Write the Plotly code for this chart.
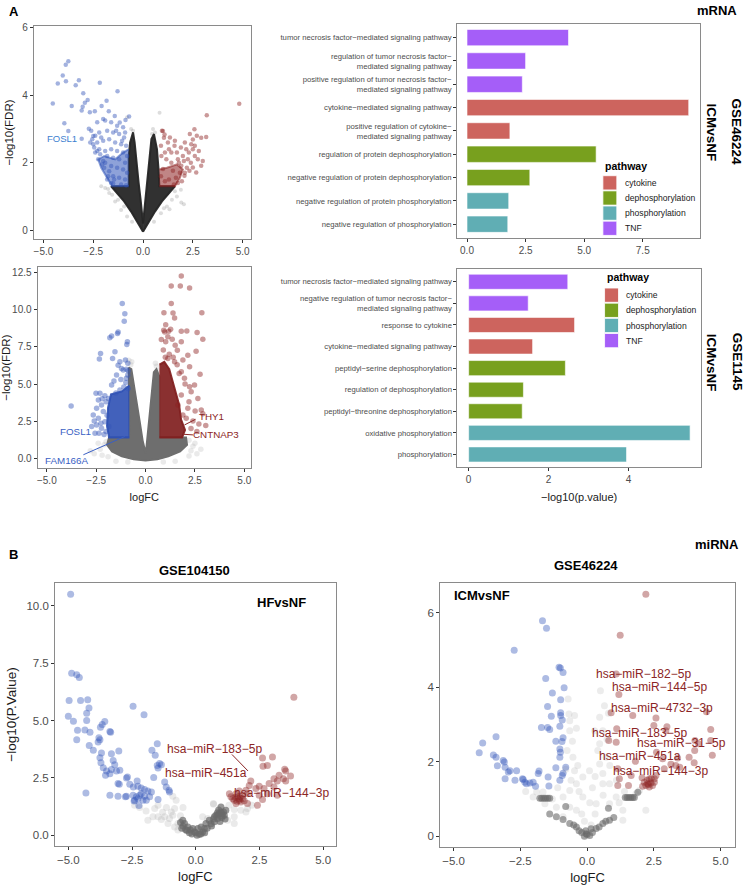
import plotly.graph_objects as go

FONT = "Liberation Sans, Arial, Helvetica, sans-serif"
M = "\u2212"

# ---------------- Panel A bar data ----------------
a1_terms = ["tumor necrosis factor" + M + "mediated signaling pathway",
            "regulation of tumor necrosis factor" + M + "<br>mediated signaling pathway",
            "positive regulation of tumor necrosis factor" + M + "<br>mediated signaling pathway",
            "cytokine" + M + "mediated signaling pathway",
            "positive regulation of cytokine" + M + "<br>mediated signaling pathway",
            "regulation of protein dephosphorylation",
            "negative regulation of protein dephosphorylation",
            "negative regulation of protein phosphorylation",
            "negative regulation of phosphorylation"]
a1_vals = [4.33, 2.50, 2.36, 9.46, 1.83, 5.51, 2.68, 1.78, 1.74]
a1_path = ["TNF", "TNF", "TNF", "cytokine", "cytokine", "dephosphorylation",
           "dephosphorylation", "phosphorylation", "phosphorylation"]

a2_terms = ["tumor necrosis factor" + M + "mediated signaling pathway",
            "negative regulation of tumor necrosis factor" + M + "<br>mediated signaling pathway",
            "response to cytokine",
            "cytokine" + M + "mediated signaling pathway",
            "peptidyl" + M + "serine dephosphorylation",
            "regulation of dephosphorylation",
            "peptidyl" + M + "threonine dephosphorylation",
            "oxidative phosphorylation",
            "phosphorylation"]
a2_vals = [2.48, 1.49, 2.65, 1.60, 2.42, 1.37, 1.34, 5.54, 3.95]
a2_path = ["TNF", "TNF", "cytokine", "cytokine", "dephosphorylation", "dephosphorylation",
           "dephosphorylation", "phosphorylation", "phosphorylation"]

pathways = ["cytokine", "dephosphorylation", "phosphorylation", "TNF"]
path_colors = {"cytokine": "#CD645E", "dephosphorylation": "#78A01E",
               "phosphorylation": "#60AEB4", "TNF": "#A55EF8"}

# ---------------- A1 volcano (GSE46224 mRNA) ----------------
a1_down = [(-3.75,5.01),(-3.88,4.91),(-4.03,4.59),(-4.28,4.35),(-3.87,4.42),(-3.38,4.30),(-3.22,4.45),
           (-4.53,3.76),(-3.58,3.68),(-3.0,4.06),(-2.17,4.37),(-1.28,4.12),(-1.83,3.84),(-2.78,3.86),
           (-2.92,3.78),(-3.03,3.66),(-3.08,3.55),(-2.67,3.50),(-2.42,3.53),(-2.08,3.68),(-3.95,3.17),
           (-3.75,2.94),(-3.08,2.71),(-2.72,3.01),(-2.5,2.79),(-1.72,3.53),(-1.42,3.39),(-1.17,3.19),
           (-0.88,3.27),(-0.7,3.37),(-2.3,3.2),(-2.0,3.3),(-1.9,3.25),(-1.6,3.2),(-1.3,3.1),(-1.0,3.05),
           (-0.9,2.9),(-2.6,2.95),(-2.4,2.8),(-2.2,2.9),(-1.8,2.95),(-1.5,2.9),(-1.2,2.85),(-0.95,2.75),
           (-2.65,2.6),(-2.5,2.55),(-2.3,2.6),(-2.0,2.65),(-1.7,2.7),(-1.4,2.6),(-1.1,2.55),(-0.85,2.5),
           (-2.4,2.3),(-2.2,2.4),(-1.9,2.35),(-1.6,2.4),(-1.3,2.35),(-1.0,2.3),(-0.8,2.2),(-2.25,2.1),
           (-2.0,2.05),(-1.8,2.2),(-1.5,2.15),(-1.2,2.1),(-0.9,2.0),(-1.95,1.85),(-1.6,1.9),(-1.3,1.85),
           (-1.0,1.8),(-0.8,1.7),(-1.75,1.6),(-1.5,1.6),(-1.2,1.55),(-0.9,1.5),(-1.6,1.4),(-1.5,1.38),
           (-1.1,1.35),(-0.85,1.33),(-2.55,2.7),(-2.1,2.75),(-1.35,2.95),(-1.05,2.65),(-2.45,2.45),
           (-2.15,2.25),(-1.9,2.0),(-1.7,1.75),(-1.45,1.5),(-2.3,2.35),(-2.05,1.95),(-1.8,1.5)]
a1_up = [(4.83,3.75),(3.2,3.41),(2.58,2.99),(3.17,2.76),(2.92,2.74),(2.5,2.69),(1.0,2.94),(1.08,2.84),
         (1.05,2.74),(2.17,2.40),(2.42,2.55),(2.5,2.40),(2.75,2.10),(2.25,2.10),(2.0,2.2),(1.58,2.50),
         (1.42,2.30),(1.25,2.60),(0.92,2.20),(2.92,1.91),(2.5,1.86),(2.67,1.71),(2.33,1.76),(2.08,1.61),
         (1.75,2.10),(1.92,1.91),(1.42,2.0),(1.17,2.10),(1.0,1.81),(1.5,1.76),(2.3,2.3),(2.6,2.5),
         (1.9,2.45),(1.3,2.4),(1.1,2.3),(0.9,2.5),(1.7,2.3),(2.8,2.35),(2.4,2.0),(2.2,1.85),(1.85,1.7),
         (1.65,1.55),(1.3,1.5),(1.1,1.45),(0.9,1.6),(2.05,2.05),(2.6,2.2),(3.0,2.05),(1.6,2.65),
         (2.1,2.6),(1.35,2.75),(0.95,2.95),(1.8,2.0),(2.7,2.8),(2.35,2.85),(1.95,1.45),(2.1,1.7),
         (1.75,1.4),(1.55,1.35)]
a1_ns = [(-1.7,1.1),(-1.4,0.85),(-1.1,0.6),(-0.8,0.4),(-1.9,1.25),(-2.1,1.3),(-1.75,1.22),(-0.8,3.35),
         (0.83,3.48),(1.92,0.82),(2.05,0.77),(1.33,0.62),(1.7,1.0),(1.9,1.2),(1.2,0.7),(0.9,0.5),
         (-0.6,3.0),(0.5,3.0),(0.6,2.9),(-0.55,0.25),(0.55,0.25),(-1.25,0.9),(1.45,0.9),(-0.5,2.95),
         (0.45,2.85),(-1.55,1.05),(1.6,1.15),(-0.95,0.7),(1.05,0.65)]
a1_core_left = [(0,-0.05),(-0.3,0.25),(-0.6,0.55),(-0.95,0.85),(-1.3,1.1),(-1.6,1.3),(-0.72,1.3),
                (-0.72,2.2),(-0.65,2.6),(-0.5,2.9),(-0.42,2.6),(-0.33,2.0),(-0.22,1.4),(-0.12,0.9),
                (-0.04,0.45),(0,0.2)]
a1_core_right = [(0,0.2),(0.04,0.45),(0.12,0.9),(0.22,1.4),(0.32,2.1),(0.42,2.7),(0.55,2.85),(0.7,2.4),
                 (0.78,1.8),(0.82,1.3),(1.6,1.3),(1.3,1.1),(0.95,0.85),(0.6,0.55),(0.3,0.25),(0,-0.05)]
a1_down_dense = [(-0.72,1.3),(-1.55,1.3),(-1.85,1.6),(-2.1,1.85),(-2.25,2.1),(-1.95,2.2),(-1.4,2.1),
                 (-1.0,2.3),(-0.72,2.4)]
a1_up_dense = [(0.82,1.3),(1.6,1.3),(1.85,1.55),(2.0,1.8),(1.7,1.95),(1.2,1.85),(0.82,1.8)]

# ---------------- A2 volcano (GSE1145 mRNA) ----------------
a2_down = [(-1.18,10.42),(-1.05,9.74),(-1.08,9.23),(-1.39,8.51),(-1.42,8.40),(-1.72,8.24),(-1.81,8.11),
           (-2.28,7.06),(-2.34,6.68),(-1.55,7.17),(-0.92,7.84),(-0.95,7.66),(-1.67,6.72),(-1.30,6.50),
           (-1.02,6.61),(-1.39,6.27),(-1.22,6.05),(-1.13,5.94),(-0.97,6.00),(-1.47,5.60),(-0.97,5.38),
           (-1.72,4.93),(-0.88,4.70),(-2.51,4.37),(-2.31,4.37),(-2.06,4.21),(-1.89,4.03),(-2.39,3.92),
           (-2.23,3.58),(-2.48,3.36),(-2.14,3.14),(-2.65,2.91),(-2.39,2.69),(-2.06,2.46),(-3.77,3.52),
           (-2.56,1.68),(-2.36,1.68),(-2.23,2.02),(-2.73,2.13),(-1.86,2.13),(-2.26,2.35),(-2.48,2.24),
           (-1.0,5.1),(-0.9,5.6),(-1.1,4.8),(-1.3,4.6),(-1.5,4.4),(-2.0,3.8),(-2.2,4.0),(-1.95,2.9),
           (-2.0,1.8),(-2.1,1.6),(-2.6,2.5),(-1.6,5.2),(-1.25,5.3),(-0.88,5.9),(-0.9,6.4)]
a2_up = [(1.81,12.28),(1.30,11.60),(1.76,11.60),(2.23,11.47),(1.30,10.42),(0.93,9.81),(1.39,9.79),
         (2.85,9.81),(1.47,9.45),(1.02,9.0),(1.27,8.69),(0.92,8.62),(0.97,8.51),(1.17,8.56),(1.81,8.56),
         (2.09,8.58),(2.61,8.47),(2.90,8.02),(1.13,8.18),(1.35,8.02),(1.81,7.84),(1.61,7.28),(1.02,7.84),
         (1.50,7.62),(2.14,6.94),(1.89,6.61),(2.56,7.21),(1.47,6.50),(1.13,6.72),(2.23,6.16),(2.76,5.65),
         (1.81,5.82),(1.97,5.38),(2.48,4.93),(2.31,4.48),(2.23,4.82),(2.65,4.03),(1.81,4.26),(2.82,3.25),
         (2.51,3.18),(2.14,3.36),(1.64,3.58),(1.89,2.91),(2.06,2.69),(1.0,6.8),(1.2,7.0),(0.9,7.3),
         (1.4,6.8),(1.6,6.3),(2.0,5.0),(2.2,3.8),(2.4,2.5),(2.7,2.3),(2.9,3.0),(2.3,2.0),(2.6,1.8),
         (3.05,2.2),(1.7,5.7),(0.8,8.0)]
a2_ns = [(-2.3,0.6),(-2.6,0.3),(-2.2,0.2),(-1.9,0.1),(2.3,0.5),(2.6,0.3),(2.2,0.15),(2.5,1.0),(-2.0,1.1),
         (-0.75,6.3),(-0.85,6.6),(0.55,6.2),(0.65,5.9),(-2.8,0.5),(2.8,0.6),(-1.5,-0.2),(1.5,-0.2),
         (0.9,-0.25),(-0.9,-0.25),(-2.1,0.9),(2.2,1.2),(-0.7,6.5),(0.5,6.4),(-2.4,1.0),(2.4,0.8)]
a2_core = [(0,0.35),(-0.15,1.2),(-0.3,2.5),(-0.45,3.8),(-0.6,5.0),(-0.72,6.0),(-0.85,6.1),(-0.85,4.8),
           (-0.82,1.4),(-1.85,1.4),(-1.95,0.9),(-1.7,0.45),(-1.2,0.12),(-0.6,-0.08),(0,-0.15),(0.6,-0.08),
           (1.15,0.12),(1.75,0.45),(2.1,0.9),(2.05,1.4),(0.7,1.4),(0.7,5.5),(0.55,6.0),(0.42,5.8),(0.33,4.5),
           (0.23,3.0),(0.13,1.8),(0.05,0.8),(0,0.35)]
a2_down_dense = [(-0.82,1.4),(-1.85,1.4),(-1.95,2.2),(-1.9,3.4),(-1.75,4.3),(-1.2,4.5),(-0.82,4.9)]
a2_up_dense = [(0.7,1.4),(1.85,1.4),(2.0,1.9),(1.8,2.6),(1.7,3.6),(1.5,4.6),(1.35,5.4),(1.2,6.0),
               (0.95,6.5),(0.7,6.3)]

# ---------------- B1 volcano (GSE104150 miRNA) ----------------
b1_down = [(-4.91,10.51),(-4.87,7.06),(-4.67,7.0),(-4.57,6.88),(-4.97,5.87),(-4.52,5.87),(-4.24,5.90),
           (-4.19,5.55),(-5.0,5.19),(-4.80,4.97),(-4.28,5.32),(-4.28,5.0),(-4.64,4.57),(-4.67,4.16),
           (-4.35,4.59),(-4.15,4.49),(-3.67,4.83),(-3.57,4.96),(-3.74,4.71),(-2.46,5.62),(-2.03,5.25),
           (-3.80,4.25),(-3.83,4.06),(-3.76,4.16),(-4.18,3.91),(-4.02,3.70),(-3.70,3.58),(-3.76,3.38),
           (-3.37,4.52),(-3.34,4.49),(-3.31,3.55),(-3.02,3.67),(-3.72,3.16),(-3.63,2.94),(-3.24,3.26),
           (-3.18,3.07),(-3.31,2.86),(-3.11,2.80),(-3.50,2.80),(-2.98,2.83),(-3.54,2.61),(-3.37,2.68),
           (-3.05,2.25),(-2.68,2.54),(-2.72,2.49),(-3.0,2.22),(-2.30,2.36),(-2.59,2.22),(-2.45,2.10),
           (-2.27,2.13),(-2.14,2.06),(-2.01,1.99),(-1.88,1.93),(-1.74,1.88),(-4.31,1.84),(-3.37,1.74),
           (-3.05,1.70),(-2.72,1.70),(-2.76,1.67),(-2.46,1.74),(-2.33,1.67),(-2.20,1.74),(-2.40,1.52),
           (-2.27,1.59),(-2.07,1.52),(-2.01,1.70),(-2.23,1.29),(-2.42,1.49),(-2.14,1.81),(-1.94,1.52),
           (-1.81,1.67),(-1.48,1.55),(-1.51,3.99),(-1.72,3.70),(-1.59,3.48),(-1.51,3.04),(-1.48,2.93),
           (-1.42,3.12),(-1.35,3.07),(-1.65,2.51),(-1.22,2.32),(-1.16,2.10),(-1.05,1.96),(-1.03,1.88)]
b1_up = [(3.85,6.01),(2.62,3.36),(3.01,3.41),(2.81,3.04),(2.64,3.01),(3.49,2.87),(3.53,2.80),(3.72,2.58),
         (3.27,2.61),(3.44,2.46),(3.07,2.46),(2.88,2.25),(3.20,2.36),(3.53,2.36),(3.07,2.10),(2.68,2.03),
         (2.49,2.13),(2.36,2.03),(2.16,2.36),(2.10,2.17),(2.49,1.74),(2.81,1.81),(3.20,1.74),(2.62,1.55),
         (2.42,1.30),(2.03,1.38),(2.03,1.81),(1.84,1.74),(1.97,1.96),(1.71,1.93),(1.58,1.81),(1.38,1.67),
         (1.32,1.81),(1.51,1.52),(1.71,1.52),(1.77,1.45),(1.58,1.38),(1.45,1.59),(1.64,1.67),(1.84,1.59),
         (1.7,1.6),(1.62,1.48),(1.75,1.7),(1.55,1.65),(1.9,1.5)]
b1_ns_dark = [(-0.05,0.14),(-0.12,0.29),(-0.31,0.36),(-0.44,0.51),(-0.51,0.65),(0.08,0.29),(0.21,0.36),
              (0.40,0.51),(0.53,0.65),(0.73,0.80),(0.86,0.87),(0.92,0.94),(0.99,1.01),(1.09,1.01),
              (0.86,0.72),(0.73,0.58),(1.12,0.87),(1.18,1.09),(0.99,1.23),(0.79,0.87),(1.02,0.77),
              (-0.21,0.22),(0.0,0.10),(0.14,0.04),(0.27,0.14),(0.34,0.29),(-0.6,0.55),(-0.5,0.4),
              (-0.35,0.2),(-0.25,0.1),(-0.15,0.05),(0.05,0.0),(0.2,0.05),(0.35,0.1),(0.45,0.3),(0.6,0.5),
              (0.95,0.6),(1.05,0.85),(0.9,1.1),(1.15,0.7),(0.7,0.7),(-0.4,0.25),(-0.55,0.3),(0.62,0.4),
              (1.0,0.95),(0.85,0.98)]
b1_ns_light = [(-1.88,0.65),(-1.68,0.80),(-1.48,0.80),(-1.35,0.68),(-1.22,0.80),(-1.03,0.72),(-0.90,0.87),
               (-0.83,1.16),(-0.96,1.01),(-0.77,1.52),(-0.90,1.70),(-1.09,0.51),(-0.83,0.36),(-0.70,0.51),
               (-0.70,0.22),(-1.61,1.16),(-1.48,1.30),(0.70,1.35),(1.51,1.12),(1.77,1.09),(2.03,1.16),
               (1.97,1.01),(1.51,0.80),(1.25,0.65),(1.51,0.51),(0.47,0.72),(0.27,0.80),(0.69,1.38),
               (-2.2,1.2),(-1.95,1.05),(-1.3,1.0),(-0.6,0.85),(-1.15,1.2),(1.3,1.3),(2.2,1.3),(-2.4,1.3),
               (-0.5,1.2)]

# ---------------- B2 volcano (GSE46224 miRNA) ----------------
b2_down = [(-1.67,5.78),(-1.52,5.58),(-2.73,4.99),(-1.05,4.53),(-1.0,4.51),(-0.90,4.39),(-1.55,4.23),
           (-0.86,3.98),(-1.30,3.84),(-0.99,3.66),(-1.48,3.48),(-0.99,3.31),(-1.34,3.22),(-0.99,3.24),
           (-0.93,3.12),(-1.71,2.92),(-1.48,2.92),(-1.40,2.86),(-1.02,2.95),(-0.90,2.64),(-1.17,2.55),
           (-0.94,2.54),(-1.02,2.34),(-1.0,2.25),(-1.02,2.12),(-0.80,1.85),(-1.17,1.84),(-0.90,1.69),
           (-0.93,1.63),(-1.02,1.50),(-3.91,2.50),(-3.41,2.67),(-4.04,2.24),(-3.51,2.18),(-3.41,2.12),
           (-3.14,2.03),(-3.10,1.99),(-3.36,1.89),(-3.07,1.85),(-2.89,1.76),(-2.95,1.72),(-2.64,1.76),
           (-3.07,1.54),(-2.70,1.50),(-2.42,1.54),(-2.33,1.45),(-2.39,1.52),(-2.14,1.43),(-2.27,1.41),
           (-2.02,1.45),(-1.93,1.34),(-1.83,1.68),(-1.80,1.75),(-1.46,1.59),(-1.43,1.35)]
b2_up = [(2.20,6.49),(1.24,5.39),(1.09,4.35),(1.19,3.80),(1.71,3.24),(2.58,3.17),(0.90,3.31),(2.50,2.97),
         (2.99,2.94),(2.95,2.83),(1.11,2.88),(4.63,2.86),(4.47,3.34),(0.81,2.57),(1.09,2.52),(4.04,2.57),
         (4.17,2.48),(4.63,2.57),(2.60,2.25),(3.39,2.10),(3.82,2.12),(4.03,2.30),(4.69,2.17),(1.81,2.01),
         (2.83,2.08),(3.14,1.93),(3.32,1.90),(3.47,1.85),(2.89,1.81),(4.01,1.97),(1.15,1.81),(1.21,1.54),
         (1.65,1.63),(2.06,1.57),(2.33,1.54),(2.52,1.54),(2.58,1.63),(1.15,1.36),(1.55,1.36),(2.14,1.45),
         (2.27,1.41),(2.39,1.43),(2.45,1.36),(2.20,1.36),(2.33,1.32),(2.08,1.34),(2.52,1.45),(2.25,1.5),
         (2.4,1.55),(2.3,1.38)]
b2_ns_dark = [(-1.15,0.52),(-0.65,0.34),(-0.40,0.25),(-0.03,0.07),(0.34,0.21),(0.59,0.34),(0.84,0.43),
              (-0.9,0.45),(-0.2,0.1),(0.1,0.02),(0.2,0.1),(-0.1,0.0),(0.0,0.05),(-0.5,0.3),(0.45,0.25),
              (-0.3,0.15),(0.7,0.4),(1.0,0.5),(-1.4,0.6),(-1.77,1.02),(-1.7,1.02),(-1.62,1.02),
              (-1.55,1.02),(-1.47,1.02),(-1.40,1.02),(1.43,1.04),(1.5,1.04),(1.57,1.04),(1.64,1.04),
              (1.71,1.04),(1.77,1.04),(1.9,1.18),(-0.8,0.8),(0.8,0.75),(-0.05,0.15),(0.15,0.2)]
b2_ns_light = [(-0.71,3.68),(-0.68,3.28),(-0.47,3.24),(-0.65,3.1),(-0.55,2.55),(-0.65,2.83),(0.65,3.50),
               (0.47,3.19),(0.59,2.83),(0.47,2.48),(0.71,2.12),(0.47,1.94),(0.09,1.76),(-0.16,1.59),
               (-0.40,1.41),(-0.65,1.23),(-0.90,1.05),(-1.65,1.19),(-1.89,1.19),(-2.02,1.05),(-1.58,0.87),
               (-1.15,0.78),(-0.65,0.78),(0.59,1.41),(0.84,1.41),(1.09,1.05),(0.84,0.87),(1.34,0.70),
               (1.83,1.14),(1.96,1.23),(2.20,0.70),(1.34,0.43),(-0.16,1.05),(0.34,0.87),(-0.40,0.70),
               (-0.90,0.52),(0.59,1.68),(0.40,2.30),(0.28,2.83),(-0.53,2.12),(-0.47,1.76),(-0.3,1.2),
               (0.2,1.3),(-0.2,0.6),(0.3,0.6),(-0.6,1.5),(0.6,1.1),(-0.8,1.8),(0.85,1.9),(1.1,1.5),
               (-1.3,1.0),(0.75,2.6),(-0.75,2.3),(-0.35,1.9),(0.3,1.6),(0.5,3.9),(0.8,3.3),(-0.4,2.9),
               (-2.3,1.2),(1.4,1.2),(1.2,0.9),(-1.1,1.3),(0.1,0.9),(-0.1,0.4),(0.15,0.3)]

# ---------------- labels ----------------
a1_labels = [("FOSL1", -4.09, 2.72, "down")]
a2_labels = [("FOSL1", -3.54, 1.79, "down"), ("FAM166A", -3.99, -0.17, "down"),
             ("THY1", 3.32, 2.80, "up"), ("CNTNAP3", 3.57, 1.57, "up")]
a2_segments = [(-3.15, 0.23, -1.05, 1.46, "down"), (1.97, 2.24, 2.53, 2.62, "up"),
               (1.94, 1.61, 2.40, 1.57, "up")]
b1_labels = [("hsa" + M + "miR" + M + "183" + M + "5p", 0.73, 3.77),
             ("hsa" + M + "miR" + M + "451a", 0.40, 2.71),
             ("hsa" + M + "miR" + M + "144" + M + "3p", 3.37, 1.84)]
b1_segments = [(1.42, 3.52, 2.05, 2.80)]
b2_labels = [("hsa" + M + "miR" + M + "182" + M + "5p", 2.13, 4.35),
             ("hsa" + M + "miR" + M + "144" + M + "5p", 2.71, 3.99),
             ("hsa" + M + "miR" + M + "4732" + M + "3p", 2.81, 3.43),
             ("hsa" + M + "miR" + M + "183" + M + "5p", 1.97, 2.77),
             ("hsa" + M + "miR" + M + "31" + M + "5p", 3.54, 2.49),
             ("hsa" + M + "miR" + M + "451a", 1.99, 2.15),
             ("hsa" + M + "miR" + M + "144" + M + "3p", 2.75, 1.76)]

W, H = 747, 885
BLUE = "50,85,185"
RED = "140,32,32"
LBL_BLUE = {"a1": "#3D7FD0", "a2": "#3A5FC4"}
LBL_RED = "#8B2525"

fig = go.Figure()


def pts(pairs, ax, color, size, name):
    xs = [p[0] for p in pairs]
    ys = [p[1] for p in pairs]
    fig.add_trace(go.Scatter(x=xs, y=ys, mode="markers", name=name, showlegend=False,
                             hoverinfo="skip", xaxis="x" + ax, yaxis="y" + ax,
                             marker=dict(color=color, size=size, line=dict(width=0))))


def poly(pairs, ax, color, name):
    xs = [p[0] for p in pairs]
    ys = [p[1] for p in pairs]
    fig.add_trace(go.Scatter(x=xs, y=ys, mode="lines", fill="toself", fillcolor=color,
                             line=dict(color=color, width=2), name=name, showlegend=False,
                             hoverinfo="skip", xaxis="x" + ax, yaxis="y" + ax))


# A1 volcano
pts(a1_ns, "", "rgba(120,120,120,0.25)", 4, "ns")
poly(a1_core_left, "", "rgba(38,38,38,0.95)", "core")
poly(a1_core_right, "", "rgba(38,38,38,0.95)", "core")
poly(a1_down_dense, "", "rgba(" + BLUE + ",0.55)", "down")
poly(a1_up_dense, "", "rgba(" + RED + ",0.55)", "up")
pts(a1_down, "", "rgba(" + BLUE + ",0.45)", 4.5, "down")
pts(a1_up, "", "rgba(" + RED + ",0.45)", 4.5, "up")

# A2 volcano
pts(a2_ns, "3", "rgba(150,150,150,0.2)", 5.5, "ns")
poly(a2_core, "3", "rgba(110,110,110,1)", "core")
poly(a2_down_dense, "3", "rgba(45,80,180,0.9)", "down")
poly(a2_up_dense, "3", "rgba(128,30,30,0.92)", "up")
pts(a2_down, "3", "rgba(" + BLUE + ",0.45)", 5.5, "down")
pts(a2_up, "3", "rgba(" + RED + ",0.45)", 5.5, "up")

# B1 volcano
pts(b1_ns_light, "5", "rgba(150,150,150,0.2)", 7, "ns")
pts(b1_ns_dark, "5", "rgba(105,105,105,0.7)", 7, "ns")
pts(b1_down, "5", "rgba(" + BLUE + ",0.4)", 7, "down")
pts(b1_up, "5", "rgba(" + RED + ",0.4)", 7, "up")

# B2 volcano
pts(b2_ns_light, "6", "rgba(150,150,150,0.18)", 7, "ns")
pts(b2_ns_dark, "6", "rgba(105,105,105,0.6)", 7, "ns")
pts(b2_down, "6", "rgba(" + BLUE + ",0.4)", 7, "down")
pts(b2_up, "6", "rgba(" + RED + ",0.4)", 7, "up")

# Bars
for terms, vals, paths, ax in [(a1_terms, a1_vals, a1_path, "2"), (a2_terms, a2_vals, a2_path, "4")]:
    for p in pathways:
        ys = [t for t, q in zip(terms, paths) if q == p]
        xs = [v for v, q in zip(vals, paths) if q == p]
        fig.add_trace(go.Bar(x=xs, y=ys, orientation="h", name=p, showlegend=False,
                             marker=dict(color=path_colors[p], line=dict(color="white", width=0.6)),
                             width=0.7, xaxis="x" + ax, yaxis="y" + ax, hoverinfo="skip"))


def dom_x(a, b):
    return [a / W, b / W]


def dom_y(top, bottom):
    return [1 - bottom / H, 1 - top / H]


frame = dict(showline=True, mirror=True, linecolor="#8a8a8a", linewidth=1, showgrid=False,
             zeroline=False, ticks="outside", ticklen=3, tickcolor="#333333",
             tickfont=dict(family=FONT, size=10, color="#4D4D4D"))

vx = dict(tickvals=[-5, -2.5, 0, 2.5, 5], tickformat=".1f")

layout = dict(
    width=W, height=H, margin=dict(l=0, r=0, t=0, b=0),
    paper_bgcolor="white", plot_bgcolor="white", barmode="overlay",
    font=dict(family=FONT, color="#1a1a1a"),
    xaxis=dict(frame, **vx, domain=dom_x(32, 250), range=[-5.48, 5.42], anchor="y"),
    yaxis=dict(frame, domain=dom_y(23, 237), range=[-0.27, 6.06], dtick=2, anchor="x",
               title=dict(text=M + "log10(FDR)", font=dict(size=11.5, color="#1a1a1a"), standoff=6)),
    xaxis2=dict(frame, domain=dom_x(457, 701), range=[-0.42, 9.95], anchor="y2",
                tickvals=[0, 2.5, 5, 7.5], tickformat=".1f"),
    yaxis2=dict(frame, domain=dom_y(20.7, 236), anchor="x2", type="category",
                categoryorder="array", categoryarray=a1_terms, range=[8.6, -0.6],
                tickfont=dict(family=FONT, size=7.7, color="#4D4D4D")),
    xaxis3=dict(frame, **vx, domain=dom_x(35.7, 250), range=[-5.47, 5.34], anchor="y3",
                title=dict(text="logFC", font=dict(size=11, color="#1a1a1a"), standoff=8)),
    yaxis3=dict(frame, domain=dom_y(265, 466.7), range=[-0.67, 12.88], dtick=2.5, tickformat=".1f",
                anchor="x3",
                title=dict(text=M + "log10(FDR)", font=dict(size=11.5, color="#1a1a1a"), standoff=4)),
    xaxis4=dict(frame, domain=dom_x(457.3, 701.7), range=[-0.28, 5.81], anchor="y4",
                tickvals=[0, 2, 4],
                title=dict(text=M + "log10(p.value)", font=dict(size=11, color="#1a1a1a"), standoff=8)),
    yaxis4=dict(frame, domain=dom_y(266.7, 466), anchor="x4", type="category",
                categoryorder="array", categoryarray=a2_terms, range=[8.6, -0.6],
                tickfont=dict(family=FONT, size=7.7, color="#4D4D4D")),
    xaxis5=dict(frame, **vx, domain=dom_x(53.3, 335), range=[-5.52, 5.49], anchor="y5",
                tickfont=dict(family=FONT, size=11.5, color="#4D4D4D"),
                title=dict(text="logFC", font=dict(size=13, color="#1a1a1a"), standoff=6)),
    yaxis5=dict(frame, domain=dom_y(581.7, 846), range=[-0.48, 11.01], dtick=2.5, tickformat=".1f",
                anchor="x5", tickfont=dict(family=FONT, size=11.5, color="#4D4D4D"),
                title=dict(text=M + "log10(P.Value)", font=dict(size=13.5, color="#1a1a1a"), standoff=6)),
    xaxis6=dict(frame, **vx, domain=dom_x(440, 735.7), range=[-5.5, 5.53], anchor="y6",
                tickfont=dict(family=FONT, size=11.5, color="#4D4D4D"),
                title=dict(text="logFC", font=dict(size=13, color="#1a1a1a"), standoff=6)),
    yaxis6=dict(frame, domain=dom_y(581.7, 847.3), range=[-0.30, 6.8], dtick=2, anchor="x6",
                tickfont=dict(family=FONT, size=11.5, color="#4D4D4D")),
)
fig.update_layout(**layout)

ann = []
shapes = []


def ptext(text, px, py, size=13, bold=True, angle=0, color="#000000", xanchor="center"):
    ann.append(dict(text=("<b>%s</b>" % text) if bold else text, x=px / W, y=1 - py / H,
                    xref="paper", yref="paper", showarrow=False, xanchor=xanchor, yanchor="middle",
                    textangle=angle, font=dict(family=FONT, size=size, color=color)))


ptext("A", 12, 9)
ptext("B", 12, 553)
ptext("mRNA", 718, 8)
ptext("miRNA", 718, 543)
ptext("GSE104150", 193, 569)
ptext("GSE46224", 586, 564)
ptext("HFvsNF", 281, 602)
ptext("ICMvsNF", 482, 595)
ptext("ICMvsNF", 712, 130, size=13.5, angle=90)
ptext("GSE46224", 737, 129, size=13.5, angle=90)
ptext("ICMvsNF", 712, 361, size=13.5, angle=90)
ptext("GSE1145", 738, 360, size=13.5, angle=90)


# legends for the two enrichment panels ("pathway" key)
def legend_block(left, title_y, first_top, step):
    ptext("pathway", left, title_y, size=10.5, xanchor="left")
    for i, p in enumerate(pathways):
        top = first_top + i * step
        shapes.append(dict(type="rect", xref="paper", yref="paper",
                           x0=left / W, x1=(left + 14) / W,
                           y0=1 - (top + 14.3) / H, y1=1 - top / H,
                           fillcolor=path_colors[p], line=dict(color="white", width=0.8)))
        ptext(p, left + 20, top + 7.3, size=8.6, bold=False, color="#1a1a1a", xanchor="left")


legend_block(603.3, 163.5, 173.3, 15.2)
legend_block(605, 275, 286.0, 15.2)

for t, x, y, d in a1_labels:
    ann.append(dict(text=t, x=x, y=y, xref="x", yref="y", showarrow=False,
                    font=dict(family=FONT, size=9.5, color=LBL_BLUE["a1"])))
for t, x, y, d in a2_labels:
    ann.append(dict(text=t, x=x, y=y, xref="x3", yref="y3", showarrow=False,
                    font=dict(family=FONT, size=9.8, color=LBL_BLUE["a2"] if d == "down" else LBL_RED)))
for t, x, y in b1_labels:
    ann.append(dict(text=t, x=x, y=y, xref="x5", yref="y5", showarrow=False,
                    font=dict(family=FONT, size=12, color=LBL_RED)))
for t, x, y in b2_labels:
    ann.append(dict(text=t, x=x, y=y, xref="x6", yref="y6", showarrow=False,
                    font=dict(family=FONT, size=12, color=LBL_RED)))

for x0, y0, x1, y1, d in a2_segments:
    shapes.append(dict(type="line", x0=x0, y0=y0, x1=x1, y1=y1, xref="x3", yref="y3",
                       line=dict(color=LBL_BLUE["a2"] if d == "down" else LBL_RED, width=1)))
for x0, y0, x1, y1 in b1_segments:
    shapes.append(dict(type="line", x0=x0, y0=y0, x1=x1, y1=y1, xref="x5", yref="y5",
                       line=dict(color=LBL_RED, width=1)))
fig.update_layout(annotations=ann, shapes=shapes)

fig.write_html("out.html", config={"displayModeBar": False},
               post_script="document.body.style.margin='0';document.body.style.overflow='hidden';")
